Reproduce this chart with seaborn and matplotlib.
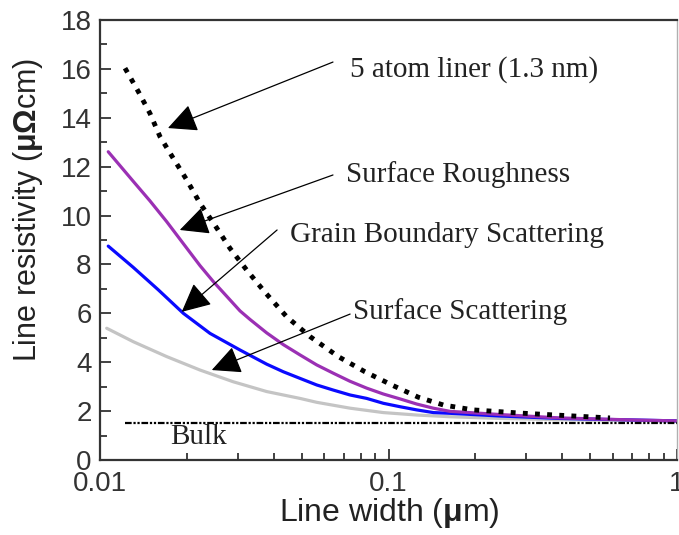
import numpy as np
import pandas as pd
import matplotlib
matplotlib.use("Agg")
import matplotlib.pyplot as plt
import seaborn as sns
from matplotlib.ticker import FixedLocator, LogLocator, NullFormatter, FixedFormatter

# Werte (Linienbreite in um, Widerstand in uOhm cm)
ss_x = [0.01055, 0.01304, 0.01703, 0.02222, 0.02897, 0.03311, 0.03783, 0.04319, 0.04933,
        0.05638, 0.07356, 0.09594, 0.1252, 0.1634, 0.2435, 0.3931, 1.0]
ss_y = [5.39, 4.84, 4.23, 3.68, 3.2, 3.0, 2.8, 2.66, 2.52,
        2.36, 2.12, 1.94, 1.84, 1.77, 1.7, 1.65, 1.6]

gb_x = [0.01068, 0.01304, 0.01593, 0.01945, 0.02406, 0.03057, 0.03783, 0.04319, 0.04933,
        0.05638, 0.06438, 0.07356, 0.08401, 0.09594, 0.1096, 0.1252, 0.1430, 0.1634,
        0.2435, 0.3931, 1.0]
gb_y = [8.75, 7.88, 6.96, 6.0, 5.18, 4.5, 3.92, 3.61, 3.34,
        3.07, 2.86, 2.66, 2.52, 2.32, 2.18, 2.05, 1.94, 1.91,
        1.8, 1.7, 1.6]

sr_x = [0.01068, 0.01304, 0.01490, 0.01703, 0.01945, 0.02222, 0.02470, 0.03057, 0.03311,
        0.03783, 0.04319, 0.04933, 0.05638, 0.06438, 0.07356, 0.08401, 0.09594, 0.1096,
        0.1252, 0.1430, 0.1634, 0.2435, 0.3931, 0.7446, 1.0]
sr_y = [12.61, 11.4, 10.6, 9.75, 8.85, 7.95, 7.3, 6.1, 5.75,
        5.2, 4.72, 4.3, 3.89, 3.55, 3.22, 2.94, 2.7, 2.5,
        2.29, 2.12, 1.99, 1.86, 1.72, 1.63, 1.6]

liner_x = [0.01221, 0.01358, 0.01490, 0.01614, 0.01795, 0.01998, 0.02222, 0.02504, 0.02822,
           0.03225, 0.03733, 0.04437, 0.05345, 0.06699, 0.08287, 0.1039, 0.1268, 0.1549,
           0.1963, 0.2857, 0.3931, 0.5859]
liner_y = [16.03, 15.07, 14.18, 13.23, 12.34, 11.46, 10.5, 9.6, 8.66,
           7.77, 6.86, 5.86, 5.05, 4.23, 3.61, 3.04, 2.57, 2.25,
           2.05, 1.92, 1.83, 1.72]

bulk_x = [0.0122, 1.0]
bulk_y = [1.5, 1.5]

x_ticks = [0.01, 0.1, 1]
x_tick_labels = ["0.01", "0.1", "1"]
y_ticks = list(range(0, 19, 2))

sns.set_style("ticks")
plt.rcParams["font.family"] = ["Liberation Sans", "DejaVu Sans"]
plt.rcParams["mathtext.fontset"] = "custom"
plt.rcParams["mathtext.rm"] = "Liberation Sans"
plt.rcParams["mathtext.bf"] = "Liberation Sans:bold"

fig = plt.figure(figsize=(6.79, 5.35), dpi=100)
ax = fig.add_axes([100 / 679, 75 / 535, 577 / 679, 440 / 535])

def df_of(xs, ys):
    return pd.DataFrame({"w": xs, "rho": ys})

sns.lineplot(data=df_of(ss_x, ss_y), x="w", y="rho", ax=ax, color="#c4c4c4", lw=2.3)
sns.lineplot(data=df_of(gb_x, gb_y), x="w", y="rho", ax=ax, color="#0a0aff", lw=2.3)
sns.lineplot(data=df_of(sr_x, sr_y), x="w", y="rho", ax=ax, color="#9b30b4", lw=2.3)
sns.lineplot(data=df_of(liner_x, liner_y), x="w", y="rho", ax=ax, color="black", lw=3.5,
             linestyle=(0, (1, 1.5)))
sns.lineplot(data=df_of(bulk_x, bulk_y), x="w", y="rho", ax=ax, color="black", lw=1.6,
             linestyle=(0, (3, 0.8, 1, 0.8, 1, 0.8)))

ax.set_xscale("log")
ax.set_xlim(0.01, 1)
ax.set_ylim(0, 18)
ax.xaxis.set_major_locator(FixedLocator(x_ticks))
ax.xaxis.set_major_formatter(FixedFormatter(x_tick_labels))
ax.xaxis.set_minor_locator(LogLocator(base=10, subs=np.arange(2, 10)))
ax.xaxis.set_minor_formatter(NullFormatter())
ax.set_yticks(y_ticks)
ax.set_yticks(range(1, 18, 2), minor=True)

ax.tick_params(which="both", direction="in", labelsize=20, colors="#333333",
               top=False, right=False)
ax.tick_params(which="major", length=8, width=1.3)
ax.tick_params(which="minor", length=5, width=1.3)
ax.tick_params(axis="x", pad=8)
ax.tick_params(axis="y", pad=6)

for s in ["left", "bottom", "top"]:
    ax.spines[s].set_visible(True)
    ax.spines[s].set_color("#333333")
    ax.spines[s].set_linewidth(1.6)
ax.spines["right"].set_visible(True)
ax.spines["right"].set_color("#b0b0b0")
ax.spines["right"].set_linewidth(1.0)

ax.set_xlabel(r"Line width ($\mathbf{μ}$m)", fontsize=23, color="#222222")
ax.set_ylabel(r"Line resistivity ($\mathbf{μΩ}$cm)", fontsize=22, color="#222222")
ax.xaxis.set_label_coords(0.501, -0.082)
ax.yaxis.set_label_coords(-0.095, 0.568)

# Beschriftungen mit Pfeilen
arrow = dict(arrowstyle="-|>,head_length=0.9,head_width=0.44", color="black", lw=0.9,
             shrinkA=0, shrinkB=0, mutation_scale=20)
serif = dict(family="Liberation Serif", fontsize=21, color="#222222", va="center", ha="left")

ax.annotate("", xy=(0.0172, 13.58), xytext=(0.0642, 16.28), arrowprops=arrow)
ax.text(0.0736, 15.96, "5 atom liner (1.3 nm)", **serif)

ax.annotate("", xy=(0.0189, 9.41), xytext=(0.0642, 11.66), arrowprops=arrow)
ax.text(0.0712, 11.66, "Surface Roughness", **serif)

ax.annotate("", xy=(0.0192, 6.06), xytext=(0.0411, 9.41), arrowprops=arrow)
ax.text(0.0456, 9.2, "Grain Boundary Scattering", **serif)

ax.annotate("", xy=(0.0244, 3.68), xytext=(0.0736, 5.97), arrowprops=arrow)
ax.text(0.0751, 6.06, "Surface Scattering", **serif)

ax.text(0.0175, 0.94, "Bulk", **serif)

fig.savefig("out.png", dpi=100)
